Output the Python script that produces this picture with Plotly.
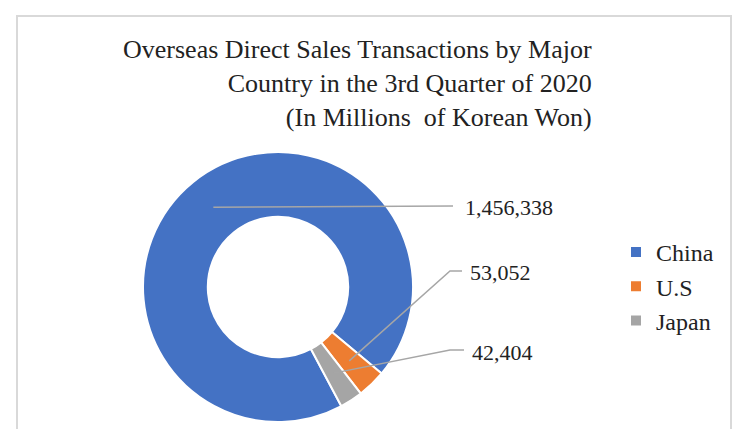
import math
import plotly.graph_objects as go

# ---- data ----
countries = ["China", "U.S", "Japan"]
sales = [1456338, 53052, 42404]
colors = ["#4472C4", "#ED7D31", "#A5A5A5"]
title_lines = ["Overseas Direct Sales Transactions by Major",
               "Country in the 3rd Quarter of 2020",
               "(In Millions  of Korean Won)"]

# ---- layout constants ----
W, H = 738, 429
CX, CY, R = 278, 287, 135
HOLE = 0.52
ROT = 152
FONT = "Liberation Serif, Times New Roman, serif"
TXT = "#222222"

def px(x):
    return x / W

def py(y):
    return 1 - y / H

fig = go.Figure()
fig.add_trace(go.Pie(
    labels=countries, values=sales, sort=False, direction="clockwise",
    rotation=ROT, hole=HOLE, textinfo="none", hoverinfo="label+value",
    marker=dict(colors=colors, line=dict(color="white", width=2)),
    domain=dict(x=[px(CX - R), px(CX + R)], y=[py(CY + R), py(CY - R)]),
))

# leader lines + labels, anchors derived from slice mid-angles
total = sum(sales)
label_pos = [(463, 207), (468, 272), (470, 352)]   # text left edge, centre y
elbows = [None, (450, 271), (450, 350)]
shapes = []
annotations = []
cum = 0
rmid = R * (1 + HOLE) / 2
for i, v in enumerate(sales):
    mid = ROT + 360 * (cum + v / 2) / total
    cum += v
    a = math.radians(mid)
    ax, ay = CX + rmid * math.sin(a), CY - rmid * math.cos(a)
    tx, ty = label_pos[i]
    if elbows[i] is None:
        path = f"M {px(ax)},{py(ay)} L {px(tx - 10)},{py(ty - 1)}"
    else:
        ex, ey = elbows[i]
        path = (f"M {px(ax)},{py(ay)} L {px(ex)},{py(ey)} "
                f"L {px(tx - 6)},{py(ey)}")
    shapes.append(dict(type="path", xref="paper", yref="paper", path=path,
                       line=dict(color="#A6A6A6", width=1.5)))
    annotations.append(dict(text=f"{v:,}", xref="paper", yref="paper",
                            x=px(tx), y=py(ty), xanchor="left", yanchor="middle",
                            showarrow=False,
                            font=dict(family=FONT, size=22, color=TXT)))

# chart border
shapes.append(dict(type="rect", xref="paper", yref="paper",
                   x0=px(17), x1=px(731), y0=py(445), y1=py(16),
                   line=dict(color="#D9D9D9", width=2)))

annotations.append(dict(text="<br>".join(title_lines), xref="paper", yref="paper",
                        x=px(594), y=py(33), xanchor="right", yanchor="top",
                        align="right", showarrow=False,
                        font=dict(family=FONT, size=26, color=TXT)))

fig.update_layout(
    width=W, height=H, margin=dict(l=0, r=0, t=0, b=0),
    paper_bgcolor="white", plot_bgcolor="white",
    shapes=shapes, annotations=annotations,
    showlegend=True,
    legend=dict(x=px(616), y=py(230), xanchor="left", yanchor="top",
                font=dict(family=FONT, size=24, color=TXT),
                bgcolor="rgba(0,0,0,0)"),
)

fig.write_html("out.html")
